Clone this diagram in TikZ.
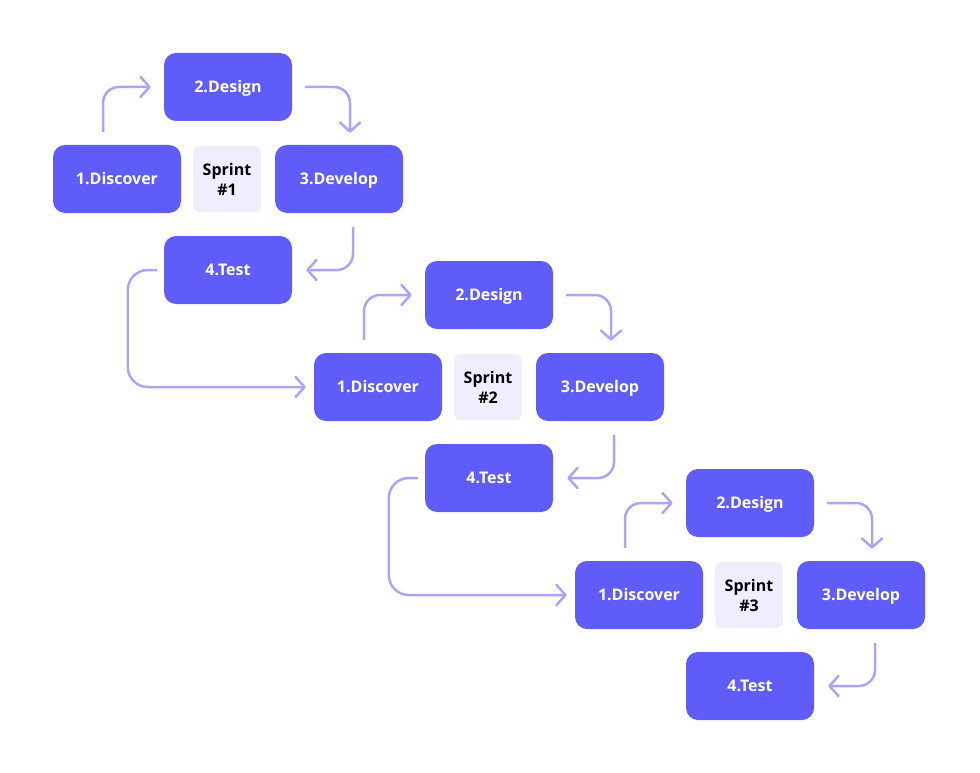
\documentclass[tikz,border=0pt]{standalone}
\usepackage{fontspec}
\setmainfont{Open Sans}
\usepackage{tikz}
\usetikzlibrary{positioning,calc,arrows.meta}
\definecolor{stageBlue}{HTML}{5F5CFA}
\definecolor{sprintBg}{HTML}{EEEEFC}
\definecolor{flowLilac}{HTML}{A9A6F8}

\begin{document}
\begin{tikzpicture}[
    x=1pt, y=-1pt,
    stage/.style={fill=stageBlue, rounded corners=12pt, minimum width=128pt, minimum height=68pt,
      text=white, font=\bfseries\fontsize{16}{19}\selectfont, inner sep=0pt,
      text height=13pt, text depth=1.6pt},
    sprint/.style={fill=sprintBg, rounded corners=7pt, minimum width=68pt, minimum height=66pt,
      align=center, font=\bfseries\fontsize{16}{20}\selectfont, inner sep=0pt},
    flow/.style={draw=flowLilac, line width=2.5pt, rounded corners=16pt,
      -{Straight Barb[length=9pt, width=20pt, round]}},
    back/.style={flow, rounded corners=20pt},
]
\useasboundingbox (0,0) rectangle (980,773);
\foreach \k in {1,2,3} {
  \begin{scope}[shift={(261*\k-261, 208*\k-208)}]
    \node[sprint] (spr\k) at (227,179) {Sprint\\\#\k};
    \node[stage] (des\k) at (228,87) {2.Design};
    \node[stage] (dis\k) at (117,179) {1.Discover};
    \node[stage] (dev\k) at (339,179) {3.Develop};
    \node[stage] (tst\k) at (228,270) {4.Test};
  \end{scope}
  \draw[flow] ([xshift=-14pt, yshift=13pt]dis\k.north) |- ([xshift=-13pt]des\k.west);
  \draw[flow] ([xshift=13pt]des\k.east) -| ([xshift=11pt, yshift=12pt]dev\k.north);
  \draw[flow] ([xshift=14pt, yshift=-14pt]dev\k.south) |- ([xshift=14pt]tst\k.east);
}
\foreach \k/\n in {1/2, 2/3} {
  \draw[back] ([xshift=-7pt]tst\k.west) -- ++(-29,0) |- ([xshift=-8pt]dis\n.west);
}
\end{tikzpicture}
\end{document}
